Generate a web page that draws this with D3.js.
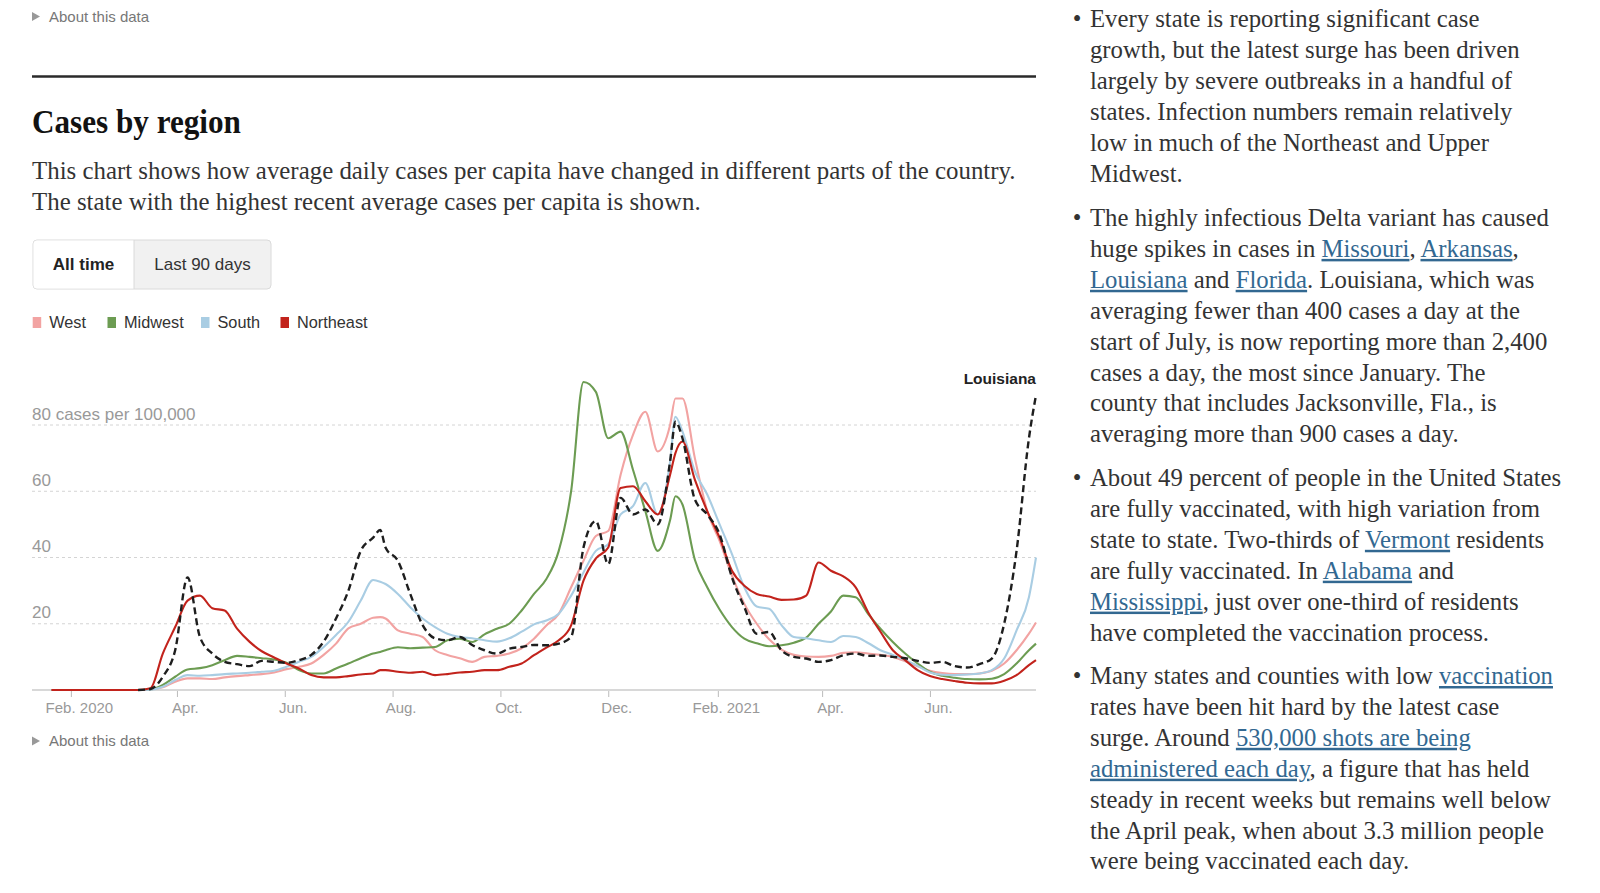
<!DOCTYPE html>
<html><head><meta charset="utf-8">
<script src="https://cdn.jsdelivr.net/npm/d3@7"></script>
<style>
html,body{margin:0;padding:0;background:#fff;}
svg{display:block;}
</style></head>
<body>
<svg id="page" width="1600" height="893"></svg>
<script>
// ---------- DATA ----------
const dates = [
"2020-01-21","2020-01-28","2020-02-04","2020-02-11","2020-02-18","2020-02-25","2020-03-03","2020-03-10","2020-03-17","2020-03-24",
"2020-03-31","2020-04-07","2020-04-14","2020-04-21","2020-04-28","2020-05-05","2020-05-12","2020-05-19","2020-05-26","2020-06-02",
"2020-06-09","2020-06-16","2020-06-23","2020-06-30","2020-07-07","2020-07-14","2020-07-21","2020-07-25","2020-07-28","2020-08-04",
"2020-08-11","2020-08-18","2020-08-25","2020-09-01","2020-09-08","2020-09-15","2020-09-22","2020-09-29","2020-10-06","2020-10-13",
"2020-10-20","2020-10-27","2020-11-03","2020-11-10","2020-11-17","2020-11-24","2020-12-01","2020-12-08","2020-12-15","2020-12-22",
"2020-12-29","2021-01-05","2021-01-08","2021-01-12","2021-01-19","2021-01-26","2021-02-02","2021-02-09","2021-02-16","2021-02-23",
"2021-03-02","2021-03-09","2021-03-16","2021-03-23","2021-03-30","2021-04-06","2021-04-13","2021-04-20","2021-04-27","2021-05-04",
"2021-05-11","2021-05-18","2021-05-25","2021-06-01","2021-06-08","2021-06-15","2021-06-22","2021-06-29","2021-07-06","2021-07-13",
"2021-07-20","2021-07-27","2021-07-31"];

const west = [
0,0,0,0,0,0,0,0,0.2,0.8,
2.5,3.5,3.5,3.3,3.8,4.2,4.5,4.8,5.3,6.3,
7,8,10.6,14,18.6,20,21.8,22,21.6,18,
17,16,12,10.6,9.6,8.5,10,10.3,11,12.6,
15.5,19.5,23,31,39,46.5,48,65,77,84,
72,80,88,88,70,54,45,34.5,26,20,
15.3,12.2,10.6,10.1,10,10.3,11.2,11.4,11,10.6,
10,8.7,7.2,5.8,5.1,4.8,4.8,5,5.8,8,
12,17,20.4];

const midwest = [
0,0,0,0,0,0,0,0,0.2,1.5,
4,6.2,6.6,7.5,9,10.3,10,9.6,9.2,8.2,
6,5,5,6.5,8,9.6,11,11.5,12,12.9,
12.6,12.8,13,15,15.5,14.5,16.8,18.5,20,24,
29,33.5,42,60,93,90,76,78,66.5,54,
42,51.3,58.5,56,39.3,31,24.3,19,15.5,14.1,
13.2,13.5,14.3,15.8,20,23.7,28.5,28,23,18.5,
14.5,11,8,5.5,4.3,3.7,3.3,3.2,3.4,4.8,
8,12,14];

const south = [
0,0,0,0,0,0,0,0,0.1,1,
3,4.5,4.3,4.5,4.8,5,5.2,5.5,5.8,7,
8.5,10,13,16.6,20.6,27,33.2,32.7,32,29,
25,21.6,19,17,16,15.6,15,14.6,15.6,17.6,
19.8,21,23,28.5,35.5,42,44,53,55.5,62.5,
53,69,82.5,78,66,59,50,41,31,25.2,
24.5,19.6,16,15.6,15,14.5,16.3,16,14.2,12,
10.6,9,7.3,5.3,4.6,4.5,4.7,5,6,9.5,
18,28,40];

const northeast = [
0,0,0,0,0,0,0,0,0.5,11,
19,27,28.5,24.7,24,18.5,14.6,11.7,9.8,8,
6.5,4.5,3.8,3.8,4.2,4.7,5,6,6,5.5,
5.2,5.5,4.5,4.8,5.3,5.5,6,6,7,8,
10.5,12.8,15,19.5,33,39.7,43,61,61.5,57,
53,65,71.5,75,63.5,54,46,36,31.5,29,
28.2,27.2,27.3,28.5,38.5,36,34.3,31,23.5,17.6,
12,9,6,4.2,3.3,2.7,2.2,2,2,2.8,
4.5,7.5,9];

const louisiana = [
null,null,null,null,null,null,null,0,0.3,4,
12,34,16,11,8.5,7.8,7.2,8.8,8.5,8.2,
9,10.6,14.6,21.6,30,42,46,48.3,43,39,
29,19.6,15.6,15,16,13.6,12,11,12.5,13,
13.6,13.5,14,16,43,51,38,58,53,54.5,
50,69,81,76,57.5,53,47,34,25,17,
17.5,12,10,9.5,8.5,9,10.5,11,10.3,10.4,
10,9.6,8.8,8.2,8.5,7.2,6.8,7.8,9.5,20,
42,76,89];

const regionNames = ["West","Midwest","South","Northeast"];
const regionColors = ["#f2a3a2","#6c9c52","#a9cde3","#c2231c"];
const regionSeries = [west, midwest, south, northeast];
const highlightName = "Louisiana";

const yTicks = [20, 40, 60, 80];
const yTopLabel = "80 cases per 100,000";
const xTickDates = ["2020-02-01","2020-04-01","2020-06-01","2020-08-01","2020-10-01","2020-12-01","2021-02-01","2021-04-01","2021-06-01"];
const xTickLabels = ["Feb. 2020","Apr.","Jun.","Aug.","Oct.","Dec.","Feb. 2021","Apr.","Jun."];

const titleText = "Cases by region";
const descLines = [
 "This chart shows how average daily cases per capita have changed in different parts of the country.",
 "The state with the highest recent average cases per capita is shown."];
const buttonLabels = ["All time", "Last 90 days"];
const aboutText = "About this data";

const paragraphs = [
 ["Every state is reporting significant case",
  "growth, but the latest surge has been driven",
  "largely by severe outbreaks in a handful of",
  "states. Infection numbers remain relatively",
  "low in much of the Northeast and Upper",
  "Midwest."],
 ["The highly infectious Delta variant has caused",
  "huge spikes in cases in [Missouri], [Arkansas],",
  "[Louisiana] and [Florida]. Louisiana, which was",
  "averaging fewer than 400 cases a day at the",
  "start of July, is now reporting more than 2,400",
  "cases a day, the most since January. The",
  "county that includes Jacksonville, Fla., is",
  "averaging more than 900 cases a day."],
 ["About 49 percent of people in the United States",
  "are fully vaccinated, with high variation from",
  "state to state. Two-thirds of [Vermont] residents",
  "are fully vaccinated. In [Alabama] and",
  "[Mississippi], just over one-third of residents",
  "have completed the vaccination process."],
 ["Many states and counties with low [vaccination]",
  "rates have been hit hard by the latest case",
  "surge. Around [530,000 shots are being",
  "administered each day], a figure that has held",
  "steady in recent weeks but remains well below",
  "the April peak, when about 3.3 million people",
  "were being vaccinated each day."]];

// ---------- DRAW ----------
const SANS = "'Liberation Sans', Arial, Helvetica, sans-serif";
const SERIF = "'Liberation Serif', 'Times New Roman', serif";
const svg = d3.select("#page");

function measure(family, weight, size, text) {
  const t = svg.append("text").attr("font-family", family).attr("font-weight", weight)
    .attr("font-size", size).text(text);
  const w = t.node().getComputedTextLength();
  t.remove();
  return w;
}
function fit(family, weight, text, target) {
  return 100 * target / measure(family, weight, 100, text);
}

function aboutRow(yc) {
  svg.append("path").attr("d", `M32,${yc-4.5}L40,${yc}L32,${yc+4.5}Z`).attr("fill", "#999");
  svg.append("text").attr("x", 49).attr("y", yc + 5).attr("font-family", SANS)
    .attr("font-size", 15).attr("fill", "#777").text(aboutText);
}
aboutRow(16.5);

svg.append("line").attr("x1", 32).attr("x2", 1036).attr("y1", 76.5).attr("y2", 76.5)
  .attr("stroke", "#2a2a2a").attr("stroke-width", 2.5);

// title: taller, condensed look
const titleSize = 34;
const titleW = measure(SERIF, 700, titleSize, titleText);
svg.append("text").attr("transform", `translate(32,133) scale(${209 / titleW},1)`)
  .attr("font-family", SERIF).attr("font-weight", 700)
  .attr("font-size", titleSize).attr("fill", "#121212").text(titleText);

const descSize = fit(SERIF, 400, descLines[0], 984);
descLines.forEach((l, i) => {
  svg.append("text").attr("x", 32).attr("y", 178.5 + i * 31.5).attr("font-family", SERIF)
    .attr("font-size", descSize).attr("fill", "#333").text(l);
});

// buttons
const bx = 33, by = 240, bw = 238, bh = 49, bdiv = 134;
svg.append("rect").attr("x", bx).attr("y", by).attr("width", bw).attr("height", bh).attr("rx", 4)
  .attr("fill", "#f1f1f1").attr("stroke", "#dadada");
svg.append("path").attr("d", `M${bdiv},${by+0.5}H${bx+4}Q${bx+0.5},${by+0.5} ${bx+0.5},${by+4}V${by+bh-4}Q${bx+0.5},${by+bh-0.5} ${bx+4},${by+bh-0.5}H${bdiv}Z`)
  .attr("fill", "#fff");
svg.append("line").attr("x1", bdiv).attr("x2", bdiv).attr("y1", by).attr("y2", by + bh).attr("stroke", "#dadada");
svg.append("text").attr("x", (bx + bdiv) / 2).attr("y", 270).attr("text-anchor", "middle")
  .attr("font-family", SANS).attr("font-weight", 700).attr("font-size", 17).attr("fill", "#222").text(buttonLabels[0]);
svg.append("text").attr("x", (bdiv + bx + bw) / 2).attr("y", 270).attr("text-anchor", "middle")
  .attr("font-family", SANS).attr("font-size", 17).attr("fill", "#333").text(buttonLabels[1]);

// legend
const legendX = [32.7, 107.5, 201, 280.5];
regionNames.forEach((n, i) => {
  svg.append("rect").attr("x", legendX[i]).attr("y", 317).attr("width", 8.5).attr("height", 11).attr("fill", regionColors[i]);
  svg.append("text").attr("x", legendX[i] + 16.5).attr("y", 328).attr("font-family", SANS)
    .attr("font-size", 16.3).attr("fill", "#333").text(n);
});

// chart
const parse = d3.timeParse("%Y-%m-%d");
const xDates = dates.map(parse);
const x = d3.scaleTime().domain([parse("2020-01-10"), parse("2021-07-31")]).range([32, 1036]);
const y = d3.scaleLinear().domain([0, 80]).range([690, 425]);

const grid = svg.append("g");
yTicks.forEach(v => {
  grid.append("line").attr("x1", 32).attr("x2", 1036).attr("y1", y(v)).attr("y2", y(v))
    .attr("stroke", "#d4d4d4").attr("stroke-dasharray", "3,3");
  grid.append("text").attr("x", 32).attr("y", y(v) - 5.5).attr("font-family", SANS)
    .attr("font-size", 17).attr("fill", "#999").text(v === 80 ? yTopLabel : v);
});

const axis = d3.axisBottom(x).tickValues(xTickDates.map(parse))
  .tickFormat((d, i) => xTickLabels[i]).tickSize(7).tickPadding(5);
const ax = svg.append("g").attr("transform", "translate(0,690)").call(axis);
ax.select(".domain").remove();
ax.selectAll(".tick line").attr("stroke", "#bbb");
ax.selectAll(".tick text").attr("font-family", SANS).attr("font-size", 15).attr("fill", "#999").attr("dx", 8);
svg.append("line").attr("x1", 32).attr("x2", 1036).attr("y1", 690).attr("y2", 690)
  .attr("stroke", "#d8d8d8").attr("stroke-width", 1.8);

const line = d3.line().defined(d => d != null).x((d, i) => x(xDates[i])).y(d => y(d)).curve(d3.curveMonotoneX);
const linesG = svg.append("g").attr("fill", "none");
regionSeries.forEach((s, i) => {
  linesG.append("path").attr("d", line(s)).attr("stroke", regionColors[i]).attr("stroke-width", 2.1)
    .attr("stroke-linejoin", "round");
});
linesG.append("path").attr("d", line(louisiana)).attr("stroke", "#1e1e1e").attr("stroke-width", 2.4)
  .attr("stroke-dasharray", "7,4");

svg.append("text").attr("x", 1036).attr("y", 384).attr("text-anchor", "end").attr("font-family", SANS)
  .attr("font-weight", 700).attr("font-size", 15.5).attr("fill", "#222").text(highlightName);

aboutRow(741);

// right column
const bodySize = (fit(SERIF, 400, paragraphs[0][0], 395) + fit(SERIF, 400, paragraphs[2][0], 465)
  + fit(SERIF, 400, paragraphs[1][0], 459)) / 3;
const paraStarts = [27, 226, 486, 684];
const LH = 30.9;
paragraphs.forEach((p, pi) => {
  svg.append("text").attr("x", 1077).attr("y", paraStarts[pi]).attr("text-anchor", "middle")
    .attr("font-family", SERIF).attr("font-size", bodySize).attr("fill", "#333").text("\u2022");
  let inLink = false;
  p.forEach((ln, li) => {
    const t = svg.append("text").attr("x", 1090).attr("y", paraStarts[pi] + li * LH)
      .attr("font-family", SERIF).attr("font-size", bodySize).attr("fill", "#333");
    let buf = "";
    const flush = (link) => {
      if (!buf) return;
      const ts = t.append("tspan").text(buf);
      if (link) ts.attr("fill", "#326891").attr("text-decoration", "underline");
      buf = "";
    };
    for (const ch of ln) {
      if (ch === "[") { flush(false); inLink = true; }
      else if (ch === "]") { flush(true); inLink = false; }
      else buf += ch;
    }
    flush(inLink);
  });
});
</script>
</body></html>
